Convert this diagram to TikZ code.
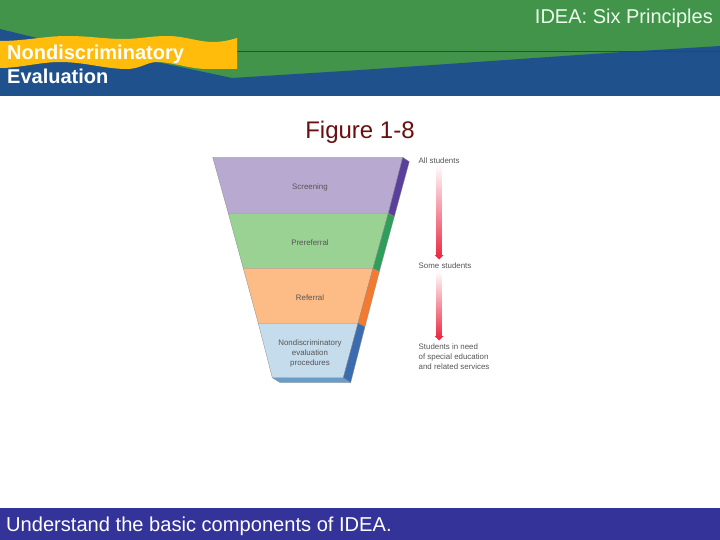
\documentclass[tikz,border=0pt]{standalone}
\usepackage{fontspec}
\setmainfont{Liberation Sans}
\definecolor{hgreen}{RGB}{66,148,74}
\definecolor{hblue}{RGB}{31,82,140}
\definecolor{hyellow}{RGB}{255,188,10}
\definecolor{hline}{RGB}{15,85,90}
\definecolor{barblue}{RGB}{51,51,153}
\definecolor{figred}{RGB}{105,15,15}
\definecolor{small}{RGB}{85,85,85}
\definecolor{arrowred}{RGB}{235,45,70}
\tikzset{
  band/.style={draw=black!45,line width=0.3pt},
  side/.style={draw=black!45,line width=0.3pt},
  flabel/.style={font=\fontsize{7.9}{10}\selectfont,text=small,align=center,inner sep=0pt},
  rlabel/.style={font=\fontsize{7.9}{10}\selectfont,text=small,align=left,inner sep=0pt,anchor=west},
  fade/.style={top color=arrowred!3,bottom color=arrowred,draw=none,shading angle=0},
  headhead/.style={fill=arrowred,draw=none},
}
\begin{document}
\begin{tikzpicture}[x=1pt,y=-1pt]
\useasboundingbox (0,0) rectangle (720,540);
\fill[white] (0,0) rectangle (720,540);
% header
\fill[hgreen] (0,0) rectangle (720,96);
\fill[hblue] (0,29) -- (37,38) -- (37,62) -- (157,62) -- (232,78) -- (360,70) -- (607,53) -- (720,46) -- (720,96) -- (0,96) -- cycle;
\draw[hline,line width=1pt] (237,52) -- (720,52);
\fill[hyellow] (0,41) .. controls (25,41) and (45,36) .. (67,36)
  .. controls (90,36) and (105,39) .. (123,39)
  .. controls (140,39) and (150,36) .. (167,36)
  .. controls (185,36) and (198,42) .. (213,42)
  .. controls (223,42) and (230,40) .. (237,38)
  -- (237,69) -- (207,69) .. controls (190,69) and (172,62) .. (157,62)
  .. controls (147,62) and (140,69) .. (127,69)
  .. controls (105,69) and (85,62) .. (60,62)
  .. controls (40,62) and (20,68) .. (0,68) -- cycle;
\node[font=\bfseries\fontsize{20}{24}\selectfont,text=white,align=left,anchor=north west,inner sep=0pt] (title) at (7,44.5) {Nondiscriminatory\\Evaluation};
\node[font=\fontsize{20}{24}\selectfont,text=white!92!green,anchor=north east,inner sep=0pt] (head) at (713,9) {IDEA: Six Principles};
\node[font=\fontsize{24}{28}\selectfont,text=figred,inner sep=0pt] (fig) at (360,132) {Figure 1-8};
% funnel
\fill[side,fill={rgb,255:red,106;green,156;blue,200}] (272.3,377.7) -- (280,382.5) -- (350.7,382.5) -- (343.3,377.7) -- cycle;
\fill[band,fill={rgb,255:red,184;green,169;blue,208}] (212.7,157.3) -- (402.7,157.3) -- (388.3,213.3) -- (228.3,213.3) -- cycle;
\fill[band,fill={rgb,255:red,154;green,210;blue,148}] (228.3,213.3) -- (388.3,213.3) -- (373,268.3) -- (243.3,268.3) -- cycle;
\fill[band,fill={rgb,255:red,253;green,187;blue,133}] (243.3,268.3) -- (373,268.3) -- (358,323.3) -- (258.3,323.3) -- cycle;
\fill[band,fill={rgb,255:red,197;green,220;blue,236}] (258.3,323.3) -- (358,323.3) -- (343.3,377.7) -- (272.3,377.7) -- cycle;
\fill[side,fill={rgb,255:red,91;green,63;blue,156}] (402.7,157.3) -- (409.3,161.7) -- (394.3,216.7) -- (388.3,213.3) -- cycle;
\fill[side,fill={rgb,255:red,47;green,158;blue,90}] (388.3,213.3) -- (394.3,216.7) -- (379.3,271.7) -- (373,268.3) -- cycle;
\fill[side,fill={rgb,255:red,244;green,122;blue,48}] (373,268.3) -- (379.3,271.7) -- (365,326.7) -- (358,323.3) -- cycle;
\fill[side,fill={rgb,255:red,60;green,108;blue,176}] (358,323.3) -- (365,326.7) -- (350.7,382.5) -- (343.3,377.7) -- cycle;
\node[flabel] (screening) at (310,187.5) {Screening};
\node[flabel] (prereferral) at (310,243) {Prereferral};
\node[flabel] (referral) at (310,298) {Referral};
\node[flabel] (nde) at (310,353) {Nondiscriminatory\\evaluation\\procedures};
% right side
\node[rlabel] (all) at (418.5,161) {All students};
\node[rlabel] (some) at (418.5,266) {Some students};
\node[rlabel] (need) at (418.5,357) {Students in need\\of special education\\and related services};
\shade[fade] (436.6,167) rectangle (441.4,255.5);
\fill[headhead] (434.5,255) -- (443.5,255) -- (439,259.5) -- cycle;
\shade[fade] (436.6,273) rectangle (441.4,336.5);
\fill[headhead] (434.5,336) -- (443.5,336) -- (439,340.5) -- cycle;
% footer
\fill[barblue] (0,508) rectangle (720,540);
\node[font=\fontsize{20.1}{24}\selectfont,text=white,anchor=west,inner sep=0pt] (foot) at (6,526.5) {Understand the basic components of IDEA.};
\end{tikzpicture}
\end{document}
